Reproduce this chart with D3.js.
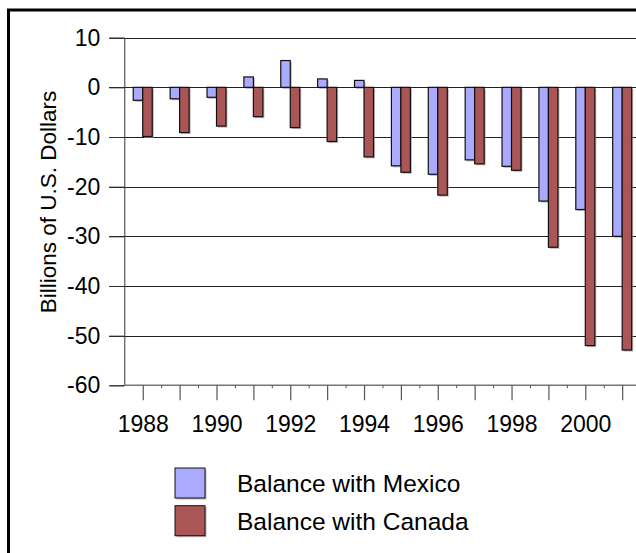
<!DOCTYPE html>
<html>
<head>
<meta charset="utf-8">
<script src="https://cdn.jsdelivr.net/npm/d3@7"></script>
<style>
  html, body { margin: 0; padding: 0; background: #fff; }
  svg { display: block; font-family: "Liberation Sans", Arial, sans-serif; }
</style>
</head>
<body>
<svg id="chart" width="636" height="553"></svg>
<script>
const years = [1988, 1989, 1990, 1991, 1992, 1993, 1994, 1995, 1996, 1997, 1998, 1999, 2000, 2001];
const mexico = [-2.6, -2.3, -2.0, 2.1, 5.4, 1.7, 1.4, -15.8, -17.5, -14.6, -15.9, -22.9, -24.6, -30.0];
const canada = [-9.9, -9.1, -7.8, -5.9, -8.1, -10.9, -14.0, -17.1, -21.7, -15.4, -16.7, -32.2, -52.0, -52.9];
const seriesNames = ["Balance with Mexico", "Balance with Canada"];
const seriesColors = ["#aaaaff", "#aa5656"];
const yTicks = [10, 0, -10, -20, -30, -40, -50, -60];
const xLabelYears = [1988, 1990, 1992, 1994, 1996, 1998, 2000];
const yTitle = "Billions of U.S. Dollars";

const svg = d3.select("#chart");

// frame
svg.append("rect").attr("x", 8.5).attr("y", 10).attr("width", 700).attr("height", 600)
  .attr("fill", "none").attr("stroke", "#000").attr("stroke-width", 3);

const left = 124.3, step = 36.88;
const x0 = d3.scaleBand().domain(years).range([left, left + step * years.length])
  .paddingInner(0.485).paddingOuter(0.2425);
const x1 = d3.scaleBand().domain([0, 1]).range([0, x0.bandwidth()]);
const y = d3.scaleLinear().domain([-60, 10]).range([385.3, 37.7]);

// gridlines
const grid = svg.append("g");
grid.selectAll("line").data(yTicks.filter(d => d !== -60)).join("line")
  .attr("x1", 109).attr("x2", 700)
  .attr("y1", d => Math.round(y(d)) + 0.5).attr("y2", d => Math.round(y(d)) + 0.5)
  .attr("stroke", "#222").attr("stroke-width", 1);

// y axis
const yAxis = d3.axisLeft(y).tickValues(yTicks).tickSize(15).tickPadding(9).tickFormat(d3.format("d"));
const gy = svg.append("g").attr("transform", `translate(${left},0)`).call(yAxis);
gy.select(".domain").attr("stroke", "#333");
gy.selectAll(".tick line").attr("stroke", "#333");
gy.selectAll("text").attr("font-size", 23).attr("fill", "#000")
  .attr("font-family", "Liberation Sans, Arial, sans-serif")
  .text(d => d < 0 ? "-" + Math.abs(d) : d);

// bars
const series = [mexico, canada];
const groups = svg.append("g").selectAll("g").data(years).join("g")
  .attr("transform", d => `translate(${x0(d)},0)`);
groups.selectAll("rect.shadow").data((d, i) => series.map((s, k) => ({k, v: s[i]}))).join("rect")
  .attr("class", "shadow")
  .attr("x", d => x1(d.k) + 1.5).attr("width", x1.bandwidth())
  .attr("y", d => Math.min(y(d.v), y(0)) + 1.5)
  .attr("height", d => Math.abs(y(d.v) - y(0)))
  .attr("fill", "#999").attr("opacity", 0.7);
groups.selectAll("rect.bar").data((d, i) => series.map((s, k) => ({k, v: s[i]}))).join("rect")
  .attr("class", "bar")
  .attr("x", d => x1(d.k)).attr("width", x1.bandwidth())
  .attr("y", d => Math.min(y(d.v), y(0)))
  .attr("height", d => Math.abs(y(d.v) - y(0)))
  .attr("fill", d => seriesColors[d.k]).attr("stroke", "#111").attr("stroke-width", 1.2);

// x axis
const xs = d3.scaleLinear().domain([years[0] - 0.5, years[years.length - 1] + 0.5])
  .range([left, left + step * years.length]);
const gx = svg.append("g").attr("transform", `translate(0,${y(-60)})`);
gx.append("line").attr("x1", left).attr("x2", 700).attr("y1", 0).attr("y2", 0)
  .attr("stroke", "#777").attr("stroke-width", 1.5);
const xAxis = d3.axisBottom(xs).tickValues(years).tickSize(15).tickPadding(15)
  .tickFormat(d => xLabelYears.includes(d) ? String(d) : "");
const gxa = gx.append("g").call(xAxis);
gxa.select(".domain").remove();
gxa.selectAll(".tick line").attr("stroke", "#555").attr("stroke-width", 1.2);
gxa.selectAll("text").attr("font-size", 23).attr("fill", "#000")
  .attr("font-family", "Liberation Sans, Arial, sans-serif");
const minorAxis = d3.axisBottom(xs).tickValues(years.slice(1).map(d => d - 0.5)).tickSize(3).tickFormat("");
const gm = gx.append("g").call(minorAxis);
gm.select(".domain").remove();
gm.selectAll(".tick line").attr("stroke", "#555");

// y title
svg.append("text").attr("transform", "translate(56,202) rotate(-90)")
  .attr("text-anchor", "middle").attr("font-size", 22.5).attr("fill", "#000")
  .text(yTitle);

// legend
const legend = svg.append("g").selectAll("g").data(seriesNames).join("g")
  .attr("transform", (d, i) => `translate(175,${468 + i * 37.7})`);
legend.append("rect").attr("x", 1.5).attr("y", 1.5).attr("width", 30).attr("height", 30)
  .attr("fill", "#999").attr("opacity", 0.7);
legend.append("rect").attr("width", 30).attr("height", 30)
  .attr("fill", (d, i) => seriesColors[i]).attr("stroke", "#111").attr("stroke-width", 1);
legend.append("text").attr("x", 62).attr("y", 24).attr("font-size", 24.5).attr("fill", "#000")
  .text(d => d);
</script>
</body>
</html>
